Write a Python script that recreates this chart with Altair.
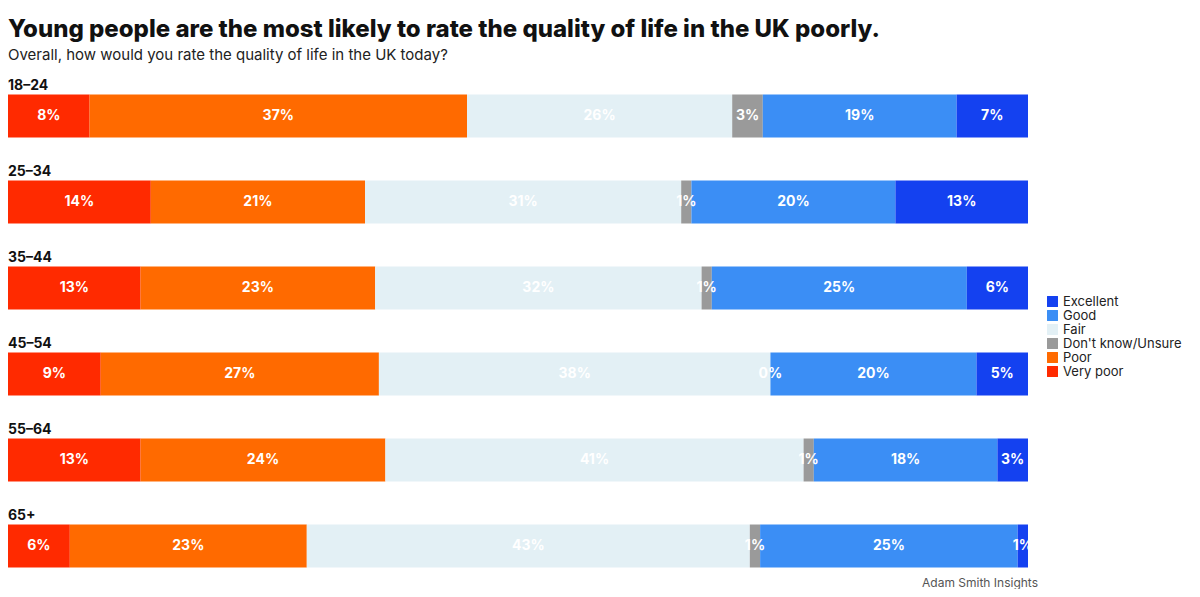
import altair as alt
import pandas as pd

groups = ["18–24", "25–34", "35–44", "45–54", "55–64", "65+"]
stack_order = ["Very poor", "Poor", "Fair", "Don't know/Unsure", "Good", "Excellent"]
legend_order = ["Excellent", "Good", "Fair", "Don't know/Unsure", "Poor", "Very poor"]
colors = ["#1441f0", "#3b8ef5", "#e3f0f5", "#9a9a9a", "#ff6a00", "#ff2a00"]

very_poor = [8, 14, 13, 9, 13, 6]
poor = [37, 21, 23, 27, 24, 23]
fair = [26, 31, 32, 38, 41, 43]
dont_know = [3, 1, 1, 0, 1, 1]
good = [19, 20, 25, 20, 18, 25]
excellent = [7, 13, 6, 5, 3, 1]

series = {"Very poor": very_poor, "Poor": poor, "Fair": fair,
          "Don't know/Unsure": dont_know, "Good": good, "Excellent": excellent}
rows = []
for name, vals in series.items():
    for g, v in zip(groups, vals):
        rows.append({"group": g, "answer": name, "value": v,
                     "ord": stack_order.index(name), "label": f"{v}%"})
df = pd.DataFrame(rows)

base = alt.Chart(df).transform_stack(
    stack="value", groupby=["group"], as_=["x0", "x1"],
    sort=[alt.SortField("ord")], offset="normalize"
).transform_calculate(mid="(datum.x0 + datum.x1) / 2")

yenc = alt.Y("group:N", sort=groups, axis=None,
             scale=alt.Scale(paddingInner=0.5, paddingOuter=0.25))

bars = base.mark_bar().encode(
    x=alt.X("x0:Q", axis=None, scale=alt.Scale(domain=[0, 1], nice=False)),
    x2="x1:Q",
    y=yenc,
    color=alt.Color("answer:N", sort=legend_order,
                    scale=alt.Scale(domain=legend_order, range=colors),
                    legend=alt.Legend(title=None, orient="none", legendX=1038, legendY=222,
                                      symbolType="square", symbolSize=120, labelFontSize=13,
                                      labelFont="Inter", rowPadding=-1, labelColor="#222")),
)

labels = base.mark_text(color="white", fontWeight="bold", fontSize=14, font="Inter").encode(
    x="mid:Q", y=yenc, text="label:N")

row_df = pd.DataFrame({"group": groups})
row_labels = alt.Chart(row_df).mark_text(align="left", fontWeight="bold", fontSize=14,
                                         font="Inter", yOffset=-30, color="#111").encode(
    x=alt.value(0), y=yenc, text="group:N")

source = alt.Chart(pd.DataFrame({"t": ["Adam Smith Insights"]})).mark_text(
    align="right", fontSize=12, font="Inter", color="#555").encode(
    x=alt.value(1030), y=alt.value(510), text="t:N")

chart = alt.layer(bars, labels, row_labels, source).properties(
    width=1020, height=516,
    title=alt.TitleParams(
        "Young people are the most likely to rate the quality of life in the UK poorly.",
        subtitle="Overall, how would you rate the quality of life in the UK today?",
        anchor="start", font="Inter", fontSize=24, fontWeight=800, color="#111",
        subtitleFont="Inter", subtitleFontSize=15, subtitleColor="#222",
        subtitlePadding=6, offset=10)
).configure(padding={"left": 0, "top": 10, "right": 0, "bottom": 0}).configure_view(stroke=None)

chart.save("out.html", embed_options={"renderer": "svg", "actions": False})
